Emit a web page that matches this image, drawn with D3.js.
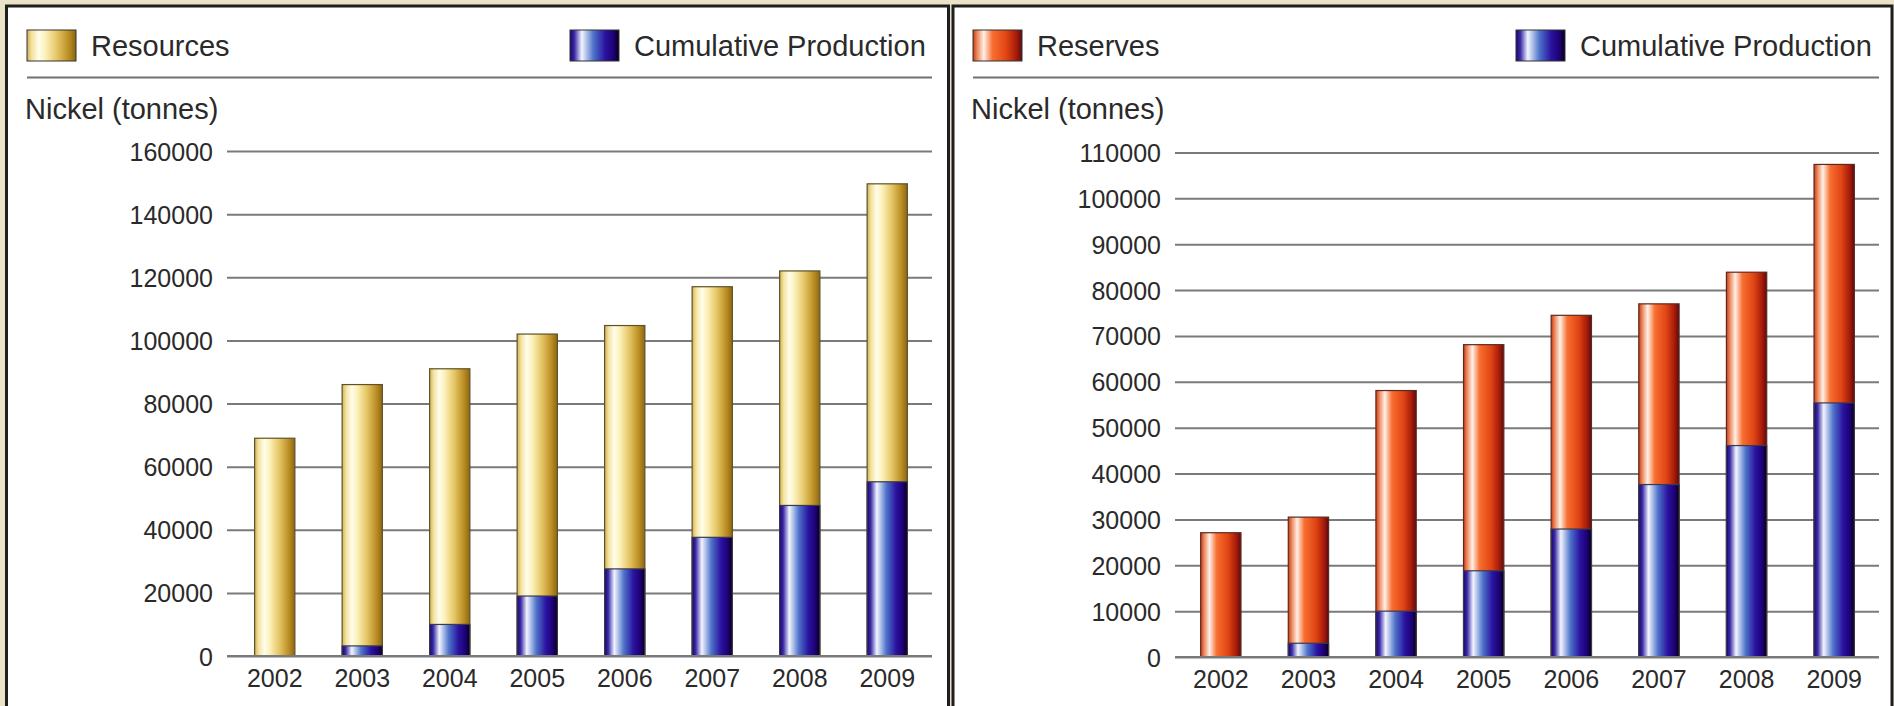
<!DOCTYPE html>
<html lang="en">
  <head>
    <meta charset="UTF-8" />
    <title>Nickel resources and reserves</title>
    <style>
      body {
        margin: 0;
        background: #ebe3c7;
      }
      svg {
        display: block;
        font-family: "Liberation Sans", Arial, sans-serif;
      }
      .axis text {
        fill: #2a2a2a;
      }
    </style>
  </head>
  <body>
    <div class="chart"></div>

    <script src="https://d3js.org/d3.v7.min.js"></script>

    <script>
      // data
      const years = ["2002", "2003", "2004", "2005", "2006", "2007", "2008", "2009"];
      const resources = [69000, 86000, 91000, 102000, 104700, 117000, 122000, 149600];
      const productionLeft = [0, 3200, 10000, 19000, 27600, 37600, 47700, 55200];
      const reserves = [27100, 30500, 58100, 68100, 74500, 77000, 83900, 107400];
      const productionRight = [0, 3000, 10000, 18800, 27900, 37600, 46100, 55400];
      const leftTicks = [0, 20000, 40000, 60000, 80000, 100000, 120000, 140000, 160000];
      const rightTicks = [0, 10000, 20000, 30000, 40000, 50000, 60000, 70000, 80000, 90000, 100000, 110000];

      const W = 1894;
      const H = 706;

      const svg = d3
        .select(".chart")
        .append("svg")
        .attr("width", W)
        .attr("height", H);

      // 漸層 (shiny cylinder look)
      const defs = svg.append("defs");
      const addGradient = (id, stops) => {
        const g = defs
          .append("linearGradient")
          .attr("id", id)
          .attr("x1", "0%")
          .attr("x2", "100%")
          .attr("y1", "0%")
          .attr("y2", "0%");
        stops.forEach(([o, c]) => {
          g.append("stop").attr("offset", o).attr("stop-color", c);
        });
      };
      addGradient("gold", [
        ["0%", "#d2b055"],
        ["10%", "#f3e3a0"],
        ["24%", "#fffdec"],
        ["38%", "#fcf0b8"],
        ["62%", "#e4c462"],
        ["86%", "#b98b22"],
        ["100%", "#8c6612"],
      ]);
      addGradient("blue", [
        ["0%", "#1c0068"],
        ["9%", "#3a2ca8"],
        ["24%", "#f2f5ff"],
        ["48%", "#4d72c9"],
        ["72%", "#2a12a0"],
        ["90%", "#1c0070"],
        ["100%", "#050010"],
      ]);
      addGradient("red", [
        ["0%", "#c93a14"],
        ["9%", "#ee8a5e"],
        ["22%", "#fff1e8"],
        ["40%", "#f76e30"],
        ["68%", "#e04514"],
        ["88%", "#a81c0a"],
        ["100%", "#5e0a10"],
      ]);

      const drawPanel = (p) => {
        const g = svg.append("g");

        // panel box
        g.append("rect")
          .attr("x", p.x0)
          .attr("y", 6)
          .attr("width", p.x1 - p.x0)
          .attr("height", H + 20)
          .attr("fill", "#fff")
          .attr("stroke", p.border)
          .attr("stroke-width", p.borderW);

        // legend
        const legend = [
          { x: p.legendX, label: p.label, fill: p.fill },
          { x: p.prodLegendX, label: "Cumulative Production", fill: "url(#blue)" },
        ];
        legend.forEach((d) => {
          g.append("rect")
            .attr("x", d.x)
            .attr("y", 30)
            .attr("width", 49)
            .attr("height", 31)
            .attr("fill", d.fill)
            .attr("stroke", "#333")
            .attr("stroke-width", 1);
          g.append("text")
            .attr("x", d.x + 64)
            .attr("y", 56)
            .attr("font-size", 29)
            .attr("fill", "#2a2a2a")
            .text(d.label);
        });

        // separator
        g.append("line")
          .attr("x1", p.legendX)
          .attr("x2", p.plotRight)
          .attr("y1", 77.5)
          .attr("y2", 77.5)
          .attr("stroke", "#707070")
          .attr("stroke-width", 2);

        g.append("text")
          .attr("x", p.legendX - 2)
          .attr("y", 119)
          .attr("font-size", 29)
          .attr("fill", "#2a2a2a")
          .text("Nickel (tonnes)");

        // 比例尺
        const xScale = d3
          .scaleBand()
          .domain(years)
          .range([p.bandLeft, p.plotRight - 1])
          .paddingInner(0.54)
          .paddingOuter(0.27);

        const yScale = d3
          .scaleLinear()
          .domain([0, p.ticks[p.ticks.length - 1]])
          .range([p.zeroY, p.topY]);

        // y axis + gridlines
        const yAxis = d3
          .axisLeft(yScale)
          .tickValues(p.ticks)
          .tickFormat(d3.format("d"))
          .tickSizeInner(-(p.plotRight - p.gridLeft))
          .tickSizeOuter(0)
          .tickPadding(14);

        const yg = g
          .append("g")
          .attr("class", "axis")
          .attr("transform", `translate(${p.gridLeft}, 0)`)
          .call(yAxis);
        yg.select(".domain").remove();
        yg.selectAll("line").attr("stroke", "#7a7a7a").attr("stroke-width", 2);
        yg.selectAll("text")
          .attr("font-size", 25)
          .attr("font-family", "Liberation Sans, Arial, sans-serif")
          .attr("dy", "0.36em");

        // x axis labels
        const xg = g
          .append("g")
          .attr("class", "axis")
          .attr("transform", `translate(0, ${p.zeroY})`)
          .call(d3.axisBottom(xScale).tickSize(0).tickPadding(13));
        xg.select(".domain").remove();
        xg.selectAll("text")
          .attr("font-size", 25)
          .attr("font-family", "Liberation Sans, Arial, sans-serif");

        // main bars
        g.append("g")
          .selectAll("rect")
          .data(p.main)
          .enter()
          .append("rect")
          .attr("x", (d, i) => xScale(years[i]))
          .attr("y", (d) => yScale(d))
          .attr("width", xScale.bandwidth())
          .attr("height", (d) => yScale(0) - yScale(d))
          .attr("fill", p.fill)
          .attr("stroke", p.barStroke)
          .attr("stroke-width", 1.2);

        // production bars on top
        g.append("g")
          .selectAll("rect")
          .data(p.prod.map((v, i) => ({ year: years[i], v })).filter((d) => d.v > 0))
          .enter()
          .append("rect")
          .attr("x", (d) => xScale(d.year))
          .attr("y", (d) => yScale(d.v))
          .attr("width", xScale.bandwidth())
          .attr("height", (d) => yScale(0) - yScale(d.v))
          .attr("fill", "url(#blue)")
          .attr("stroke", "#3a3a4a")
          .attr("stroke-width", 1.2);

        // base line on top of the bars
        g.append("line")
          .attr("x1", p.gridLeft)
          .attr("x2", p.plotRight)
          .attr("y1", yScale(0))
          .attr("y2", yScale(0))
          .attr("stroke", "#7a7a7a")
          .attr("stroke-width", 2);
      };

      drawPanel({
        x0: 6.5,
        x1: 948.5,
        border: "#1e1e1e",
        borderW: 3,
        legendX: 27,
        prodLegendX: 570,
        label: "Resources",
        fill: "url(#gold)",
        barStroke: "#5e5228",
        gridLeft: 227,
        bandLeft: 231,
        plotRight: 932,
        zeroY: 656,
        topY: 151,
        ticks: leftTicks,
        main: resources,
        prod: productionLeft,
      });

      drawPanel({
        x0: 953,
        x1: 1892,
        border: "#1e1e1e",
        borderW: 3,
        legendX: 973,
        prodLegendX: 1516,
        label: "Reserves",
        fill: "url(#red)",
        barStroke: "#5a2a20",
        gridLeft: 1175,
        bandLeft: 1177,
        plotRight: 1879,
        zeroY: 657,
        topY: 152.5,
        ticks: rightTicks,
        main: reserves,
        prod: productionRight,
      });
    </script>
  </body>
</html>
